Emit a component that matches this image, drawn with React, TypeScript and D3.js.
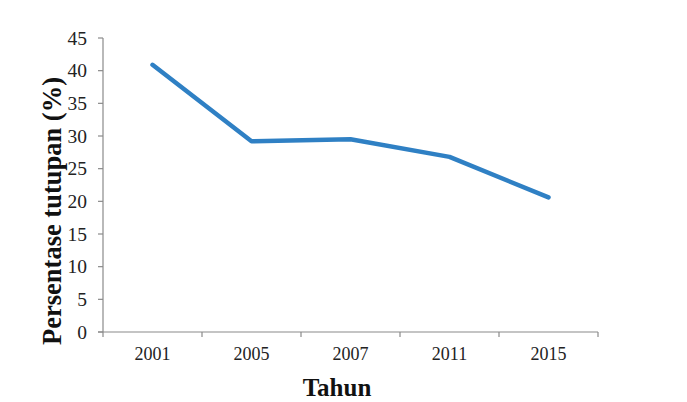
import React from "react";
import * as d3 from "d3";

const categories: string[] = ["2001", "2005", "2007", "2011", "2015"];
const values: number[] = [40.9, 29.2, 29.5, 26.8, 20.6];
const yTicks: number[] = [0, 5, 10, 15, 20, 25, 30, 35, 40, 45];

export default function App() {
  const W = 687, H = 402;
  const left = 103, right = 598, top = 38, bottom = 332;
  const x = d3.scaleBand<string>().domain(categories).range([left, right]).padding(0);
  const y = d3.scaleLinear().domain([0, 45]).range([bottom, top]);
  const line = d3.line<number>()
    .x((_, i) => (x(categories[i]) as number) + x.bandwidth() / 2)
    .y((d) => y(d));
  const font = "'Liberation Serif', 'Times New Roman', serif";
  const axisColor = "#8a8a8a";
  const boundaries = [...categories.map((c) => x(c) as number), right];
  return (
    <svg width={W} height={H} style={{ position: "absolute", left: 0, top: 0, background: "#fff" }}>
      {/* y axis */}
      <line x1={left} x2={left} y1={top} y2={bottom} stroke={axisColor} strokeWidth={1.2} />
      {yTicks.map((t) => (
        <g key={t}>
          <line x1={left - 5} x2={left} y1={y(t)} y2={y(t)} stroke={axisColor} strokeWidth={1.2} />
          <text x={87} y={y(t)} dy="0.35em" textAnchor="end" fontFamily={font} fontSize={19.5} fill="#222">
            {t}
          </text>
        </g>
      ))}
      {/* x axis */}
      <line x1={left - 5} x2={right} y1={bottom} y2={bottom} stroke={axisColor} strokeWidth={1.2} />
      {boundaries.map((b, i) => (
        <line key={i} x1={b} x2={b} y1={bottom} y2={bottom + 5} stroke={axisColor} strokeWidth={1.2} />
      ))}
      {categories.map((c) => (
        <text key={c} x={(x(c) as number) + x.bandwidth() / 2} y={360} textAnchor="middle" fontFamily={font} fontSize={18} fill="#222">
          {c}
        </text>
      ))}
      {/* line */}
      <path d={line(values) || ""} fill="none" stroke="#2f80c4" strokeWidth={4.5} strokeLinejoin="round" strokeLinecap="round" />
      {/* axis titles */}
      <text x={337} y={396} textAnchor="middle" fontFamily={font} fontSize={25} fontWeight="bold" fill="#111">
        Tahun
      </text>
      <text
        transform={`translate(61, 211) rotate(-90)`}
        textAnchor="middle"
        fontFamily={font}
        fontSize={26.5}
        fontWeight="bold"
        fill="#111"
      >
        Persentase tutupan (%)
      </text>
    </svg>
  );
}
